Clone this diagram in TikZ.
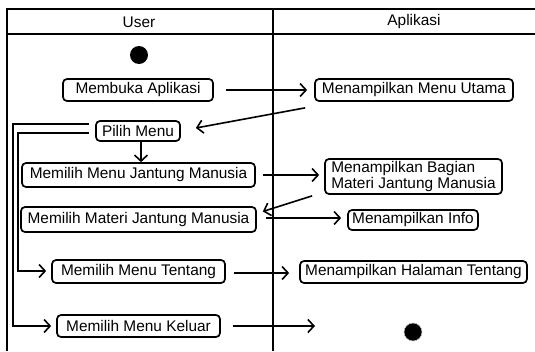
\documentclass[tikz,border=0pt]{standalone}
\usepackage{fontspec}
\setmainfont{Liberation Sans}
\usetikzlibrary{arrows.meta,calc}

\tikzset{
  act/.style={draw, rounded corners=4pt, line width=1.7pt, inner sep=0pt,
              font=\fontsize{15.4}{16.5}\selectfont, align=center},
  flow/.style={line width=1.6pt, -{Straight Barb[length=6pt, width=13pt, line width=1.6pt]}},
  lane/.style={line width=1.9pt},
  dot/.style={circle, fill=black, minimum size=18pt, inner sep=0pt},
  title/.style={font=\fontsize{15.4}{16.5}\selectfont}
}

\begin{document}
\begin{tikzpicture}[x=1pt, y=-1pt]
  \useasboundingbox (0,0) rectangle (535,351);

  % swimlane frame
  \draw[lane] (535,9) -- (7,9) -- (7,351);
  \draw[lane] (7,34) -- (535,34);
  \draw[lane] (273,9) -- (273,351);
  \node[title] (user) at (139,22) {User};
  \node[title] (app) at (414,22) {Aplikasi};

  % start and end states
  \node[dot] (start) at (139,55) {};
  \node[dot, draw=gray!50, line width=0.6pt] (stop) at (413,332) {};

  % user actions
  \node[act, minimum width=150pt, minimum height=22pt] (buka) at (138,90) {Membuka Aplikasi};
  \node[act, minimum width=84pt, minimum height=20pt] (pilih) at (138,131) {Pilih Menu};
  \node[act, minimum width=233pt, minimum height=24pt] (mjm) at (138.5,175) {Memilih Menu Jantung Manusia};
  \node[act, minimum width=235pt, minimum height=25pt] (mmjm) at (138.5,219.5) {Memilih Materi Jantung Manusia};
  \node[act, minimum width=173pt, minimum height=23pt] (tentang) at (138.5,271.5) {Memilih Menu Tentang};
  \node[act, minimum width=163pt, minimum height=22pt] (keluar) at (138.5,326) {Memilih Menu Keluar};

  % application responses
  \node[act, minimum width=198pt, minimum height=22pt] (utama) at (414,90) {Menampilkan Menu Utama};
  \node[act, minimum width=177pt, minimum height=35pt, align=left] (bagian) at (413.5,176.5)
       {Menampilkan Bagian\\Materi Jantung Manusia};
  \node[act, minimum width=130pt, minimum height=20pt] (info) at (413,220) {Menampilkan Info};
  \node[act, minimum width=227pt, minimum height=22pt] (halaman) at (413.5,272) {Menampilkan Halaman Tentang};

  % free ends of connectors
  \coordinate (kback) at ($(utama.south west)+(-9,6)$);
  \coordinate (kpilih) at ($(pilih.east)+(15,-3)$);
  \coordinate (bback) at ($(bagian.south west)+(-12,1)$);
  \coordinate (kmmjm) at ($(mmjm.east)+(6,-8)$);
  \coordinate (kout) at (315,326);
  \coordinate (l1) at (13,124);
  \coordinate (l2) at (18,133);

  % flow between the lanes
  \draw[flow, shorten <=12pt, shorten >=7pt] (buka.east) -- (utama.west);
  \draw[flow] (kback) -- (kpilih);
  \draw[flow] ([xshift=3pt]pilih.south) -- ([xshift=3pt]pilih.south |- mjm.north);
  \draw[flow, shorten <=7pt, shorten >=5pt] (mjm.east) -- (mjm.east -| bagian.west);
  \draw[flow] (bback) -- (kmmjm);
  \draw[flow, shorten <=9pt, shorten >=6pt] ([yshift=1.5pt]mmjm.east) -- ([yshift=1.5pt]mmjm.east -| info.west);
  \draw[flow, shorten <=8pt, shorten >=10pt] ([yshift=-1.5pt]tentang.east) -- ([yshift=-1.5pt]tentang.east -| halaman.west);
  \draw[flow, shorten <=12pt] (keluar.east) -- (kout);

  % menu branches back from Pilih Menu
  \draw[flow, shorten >=5pt] ([xshift=-6pt]pilih.west |- l1) -- (l1) |- (keluar.west);
  \draw[flow, shorten >=5pt] ([xshift=-6pt]pilih.west |- l2) -- (l2) |- ([yshift=0.5pt]tentang.west);
\end{tikzpicture}
\end{document}
